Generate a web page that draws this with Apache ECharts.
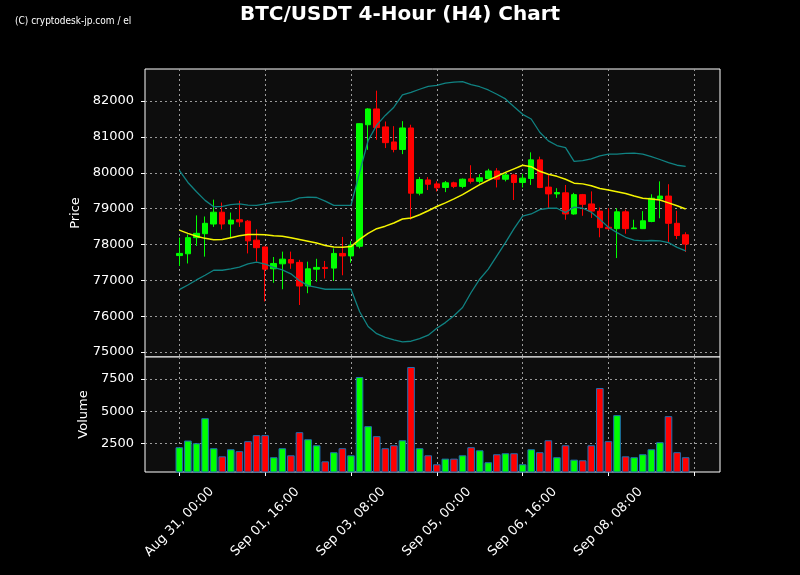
<!DOCTYPE html>
<html>
<head>
<meta charset="utf-8">
<script src="https://cdn.jsdelivr.net/npm/echarts@6/dist/echarts.min.js"></script>
<style>
html,body{margin:0;padding:0;background:#000;}
#chart{width:800px;height:575px;}
</style>
</head>
<body>
<div id="chart"></div>
<script>
// ---- data (4-hour candles, index 0 = Aug 31 00:00) ----
const opens  = [77690,77740,78190,78300,78570,78900,78570,78690,78650,78120,77930,77320,77460,77580,77500,76840,77310,77360,77340,77750,
                77680,77950,81340,81780,81280,80860,80650,81250,79430,79800,79690,79590,79720,79620,79830,79760,79840,80050,79820,79940,
                79730,79840,80360,79600,79410,79440,78850,79390,79130,78930,78480,78440,78910,78440,78440,78640,79270,79350,78590,78270];
const closes = [77750,78190,78310,78590,78900,78570,78680,78630,78100,77910,77310,77470,77590,77480,76840,77320,77360,77330,77750,77680,
                77980,81370,81780,81260,80840,80650,81250,79430,79810,79680,79580,79720,79620,79820,79760,79860,80050,79820,79940,79730,
                79850,80360,79590,79410,79450,78850,79390,79120,78930,78470,78440,78910,78440,78460,78660,79290,79350,78590,78250,78010];
const lows   = [77400,77470,77960,77660,78490,78420,78190,78490,77750,77520,76410,76930,76750,77320,76310,76640,76960,77050,76980,77140,
                77490,77890,80640,80920,80690,80570,80520,78690,79370,79520,79480,79460,79570,79570,79700,79700,79820,79590,79760,79240,
                79590,79660,79570,79020,79300,78690,78830,78800,78740,78200,78410,77620,78300,78430,78430,78620,78730,78070,78150,77790];
const highs  = [78190,78280,78810,78780,79250,79170,78890,79220,78680,78420,77940,77650,77800,77800,77570,77520,77600,77540,77890,78210,
                78090,81380,81800,82290,81430,81300,81440,81340,79880,79880,79760,79770,79750,79840,80210,79960,80110,80130,80010,79970,
                79970,80570,80450,79940,79570,79660,79440,79410,79480,79030,79010,79010,78970,78690,78930,79400,79760,79680,78940,78340];
const volumes = [2190,2710,2500,4450,2110,1480,2030,1880,2660,3130,3130,1410,2110,1560,3360,2810,2340,1090,1800,2110,
                 1560,7660,3830,3050,2110,2340,2730,8440,2110,1560,860,1300,1300,1560,2190,1950,1020,1640,1720,1720,
                 860,2030,1800,2730,1410,2340,1220,1170,2340,6800,2660,4690,1480,1410,1640,2030,2580,4610,1800,1410];
const bbUpper = [80070,79730,79470,79230,79050,79060,79110,79130,79100,79090,79130,79170,79190,79210,79300,79320,79310,79210,79090,79090,
                 79090,80000,80900,81330,81600,81830,82170,82240,82330,82410,82440,82500,82530,82540,82460,82400,82310,82190,82060,81840,
                 81630,81500,81130,80890,80760,80700,80320,80340,80390,80470,80520,80520,80540,80550,80520,80450,80370,80280,80210,80180];
const bbMid   = [78400,78310,78230,78170,78130,78140,78190,78240,78280,78280,78270,78240,78230,78190,78140,78090,78040,77970,77930,77920,
                 77940,78140,78310,78440,78510,78600,78710,78740,78830,78940,79060,79160,79270,79390,79530,79670,79790,79900,80010,80110,
                 80210,80170,80040,79960,79900,79820,79710,79690,79640,79560,79520,79470,79420,79350,79290,79270,79240,79160,79080,78990];
const bbLower = [76740,76870,77010,77140,77280,77280,77320,77370,77460,77510,77450,77360,77290,77180,76990,76850,76800,76750,76750,76750,
                 76750,76130,75710,75510,75410,75340,75280,75300,75370,75470,75660,75820,76010,76240,76660,77030,77310,77680,78050,78440,
                 78790,78850,78970,79010,79010,78890,79040,79010,78900,78700,78480,78330,78200,78120,78100,78110,78100,78050,77920,77820];
// x-axis ticks (candle index) and their labels
const tickPositions = [0,10,20,30,40,50,60];
const tickLabels = ['Aug 31, 00:00','Sep 01, 16:00','Sep 03, 08:00','Sep 05, 00:00','Sep 06, 16:00','Sep 08, 08:00',''];
const priceTicks = [75000,76000,77000,78000,79000,80000,81000,82000];
const volumeTicks = [2500,5000,7500];

// axis spans index -4 .. 63
const X_FIRST = -4, X_LAST = 63;
const cats = [];
for (let k = X_FIRST; k <= X_LAST; k++) cats.push(String(k));
const off = -X_FIRST;

const UP = '#00ff00', DOWN = '#ff0000';
const FONT = 'DejaVu Sans';
const candleData = opens.map((o, i) => [i + off, o, closes[i], lows[i], highs[i]]);
const volData = volumes.map((v, i) => [i + off, v]);
const lineData = arr => arr.map((v, i) => [i + off, v]);
const isTick = (idx) => tickPositions.indexOf(idx - off) >= 0;

const chart = echarts.init(document.getElementById('chart'), null, {renderer: 'canvas'});
const gridLine = {show: true, lineStyle: {color: '#9a9a9a', type: [2, 3], width: 1}};
const plain = (v) => String(v);

chart.setOption({
  animation: false,
  backgroundColor: '#000000',
  title: {
    text: 'BTC/USDT 4-Hour (H4) Chart',
    left: 'center', top: 0,
    textStyle: {color: '#ffffff', fontFamily: FONT, fontWeight: 'bold', fontSize: 20}
  },
  graphic: [{
    type: 'text', left: 15, top: 16,
    style: {text: '(C) cryptodesk-jp.com / el', fill: '#ffffff',
            font: '10px "Liberation Sans Narrow", "DejaVu Sans Condensed", sans-serif'}
  }],
  grid: [
    {left: 145, width: 575, top: 69, height: 288, show: true, backgroundColor: '#0d0d0d', borderColor: '#ffffff', borderWidth: 1},
    {left: 145, width: 575, top: 357, height: 115, show: true, backgroundColor: '#0d0d0d', borderColor: '#ffffff', borderWidth: 1}
  ],
  xAxis: [
    {type: 'category', gridIndex: 0, data: cats, boundaryGap: false,
     axisLine: {show: false}, axisTick: {show: false}, axisLabel: {show: false},
     splitLine: Object.assign({interval: (i) => isTick(i)}, gridLine)},
    {type: 'category', gridIndex: 1, data: cats, boundaryGap: false,
     axisLine: {show: false},
     axisTick: {show: true, interval: (i) => isTick(i), length: 4, lineStyle: {color: '#ffffff'}},
     axisLabel: {show: true, interval: (i) => isTick(i), rotate: 45, margin: 50,
                 align: 'center', verticalAlign: 'middle',
                 color: '#ffffff', fontFamily: FONT, fontSize: 13,
                 formatter: (v) => { const k = tickPositions.indexOf(Number(v)); return k >= 0 ? tickLabels[k] : ''; }},
     splitLine: Object.assign({interval: (i) => isTick(i)}, gridLine)}
  ],
  yAxis: [
    {type: 'value', gridIndex: 0, min: 74860, max: 82895, scale: true,
     name: 'Price', nameLocation: 'middle', nameGap: 57,
     nameTextStyle: {color: '#ffffff', fontFamily: FONT, fontSize: 13},
     axisLine: {show: false},
     axisTick: {show: true, length: 4, customValues: priceTicks, lineStyle: {color: '#ffffff'}},
     axisLabel: {customValues: priceTicks, formatter: plain, color: '#ffffff', fontFamily: FONT, fontSize: 13, margin: 11},
     splitLine: gridLine},
    {type: 'value', gridIndex: 1, min: 258, max: 9219,
     name: 'Volume', nameLocation: 'middle', nameGap: 47,
     nameTextStyle: {color: '#ffffff', fontFamily: FONT, fontSize: 13},
     axisLine: {show: false},
     axisTick: {show: true, length: 4, customValues: volumeTicks, lineStyle: {color: '#ffffff'}},
     axisLabel: {customValues: volumeTicks, formatter: plain, color: '#ffffff', fontFamily: FONT, fontSize: 13, margin: 11},
     splitLine: gridLine}
  ],
  series: [
    {type: 'candlestick', xAxisIndex: 0, yAxisIndex: 0, data: candleData,
     encode: {x: 0, y: [1, 2, 3, 4]}, barWidth: 6, z: 2,
     itemStyle: {color: UP, color0: DOWN, borderColor: UP, borderColor0: DOWN, borderWidth: 1}},
    {type: 'line', xAxisIndex: 0, yAxisIndex: 0, data: lineData(bbUpper), symbol: 'none', z: 3,
     lineStyle: {color: '#108282', width: 1.3}},
    {type: 'line', xAxisIndex: 0, yAxisIndex: 0, data: lineData(bbLower), symbol: 'none', z: 3,
     lineStyle: {color: '#108282', width: 1.3}},
    {type: 'line', xAxisIndex: 0, yAxisIndex: 0, data: lineData(bbMid), symbol: 'none', z: 4,
     lineStyle: {color: '#f5f500', width: 1.5}},
    {type: 'bar', xAxisIndex: 1, yAxisIndex: 1, data: volData, encode: {x: 0, y: 1}, barWidth: 7.6,
     itemStyle: {borderColor: '#1f6fb4', borderWidth: 1,
                 color: (p) => { const i = p.dataIndex; return closes[i] >= opens[i] ? UP : DOWN; }}}
  ]
});
</script>
</body>
</html>
